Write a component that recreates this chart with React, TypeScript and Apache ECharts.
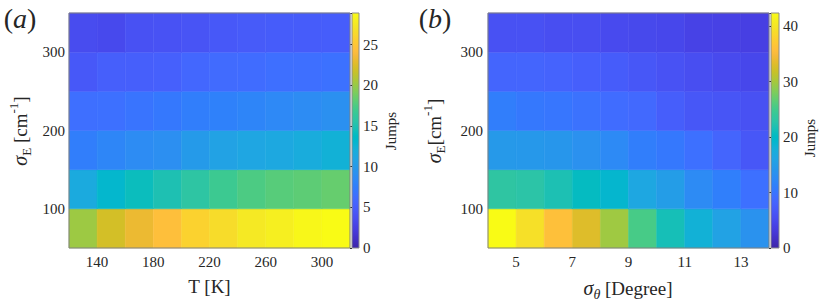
import React, { useEffect, useRef } from "react";
import * as echarts from "echarts";

// parula colormap (64 entries)
const PARULA = [
  "#3e26a8", "#402ab4", "#422ec0", "#4332cb", "#4537d5", "#463cde", "#4741e5", "#4747eb",
  "#484df0", "#4852f4", "#4758f8", "#465efb", "#4563fd", "#4269fe", "#3e6fff", "#3875fe",
  "#327cfc", "#2f81fa", "#2e87f7", "#2d8cf3", "#2b91ef", "#2796eb", "#259be8", "#23a0e5",
  "#20a5e3", "#1ca9df", "#18addb", "#12b1d6", "#08b5d0", "#01b8ca", "#02bac3", "#0bbdbd",
  "#19bfb6", "#24c1ae", "#2cc4a7", "#31c69f", "#37c897", "#3fca8e", "#4acb84", "#57cc7a",
  "#64cd6f", "#72cd64", "#81cc59", "#8fcb4e", "#9dc943", "#abc739", "#b9c431", "#c5c22a",
  "#d1bf27", "#dcbd29", "#e6bb2d", "#f0ba36", "#f8ba3d", "#febe3c", "#fec338", "#fec934",
  "#fccf30", "#fad62d", "#f7dc2a", "#f5e327", "#f5e924", "#f6ef20", "#f7f51b", "#f9fb15",
];

// cell centres
const tempK = [130, 150, 170, 190, 210, 230, 250, 270, 290, 310];
const sigmaTheta = [4.5, 5.5, 6.5, 7.5, 8.5, 9.5, 10.5, 11.5, 12.5, 13.5];
const sigmaE = [75, 125, 175, 225, 275, 325];

// tick labels
const tickTemp = [140, 180, 220, 260, 300];
const tickTheta = [5, 7, 9, 11, 13];
const tickSigmaE = [100, 200, 300];
const tickJumpsA = [0, 5, 10, 15, 20, 25];
const tickJumpsB = [0, 10, 20, 30, 40];

// colour limits
const maxJumpsA = 28.9;
const maxJumpsB = 42.4;

// panel (a): jumps, rows = sigmaE (bottom -> top), cols = T
const jumpsA = [
  [20.2, 22.1, 23.2, 24.4, 25.9, 26.6, 27.5, 28.0, 28.6, 28.9],
  [11.6, 13.1, 14.2, 14.9, 15.8, 16.8, 17.5, 17.9, 18.1, 18.4],
  [7.5, 8.2, 8.7, 9.0, 10.0, 10.7, 11.1, 11.4, 11.8, 12.4],
  [6.4, 6.5, 6.8, 7.1, 7.5, 7.8, 8.1, 8.4, 8.7, 9.1],
  [4.6, 5.1, 5.1, 5.2, 5.8, 6.1, 6.2, 6.4, 6.4, 6.6],
  [3.6, 3.4, 4.0, 4.1, 4.3, 4.6, 4.8, 4.9, 4.9, 5.0],
];

// panel (b): jumps, rows = sigmaE (bottom -> top), cols = sigmaTheta
const jumpsB = [
  [42.4, 39.4, 36.0, 33.1, 29.7, 25.4, 21.4, 18.2, 15.7, 13.6],
  [23.3, 22.9, 21.8, 20.4, 19.1, 16.5, 15.1, 12.7, 11.2, 9.5],
  [14.6, 14.4, 14.2, 13.4, 12.5, 11.0, 10.4, 9.5, 8.3, 6.6],
  [11.0, 10.4, 10.2, 9.8, 9.1, 8.7, 7.4, 6.6, 6.4, 5.9],
  [8.3, 8.3, 8.1, 7.6, 7.2, 6.6, 6.1, 5.5, 5.1, 4.7],
  [5.9, 5.9, 5.5, 5.5, 5.1, 4.9, 4.7, 4.2, 4.0, 3.8],
];

const FONT = "Liberation Serif";
const TXT = "#262626";

function buildCells(xs: number[], ys: number[], vals: number[][]) {
  const out: number[][] = [];
  ys.forEach((y, i) => xs.forEach((x, j) => out.push([x, y, vals[i][j]])));
  return out;
}

function cellRenderer(w: number, h: number) {
  return (_params: any, api: any) => {
    const x = api.value(0);
    const y = api.value(1);
    const p0 = api.coord([x - w / 2, y + h / 2]);
    const p1 = api.coord([x + w / 2, y - h / 2]);
    const c = api.visual("color");
    return {
      type: "rect",
      shape: { x: p0[0], y: p0[1], width: p1[0] - p0[0], height: p1[1] - p0[1] },
      style: { fill: c, stroke: c, lineWidth: 0.5 },
    };
  };
}

function gradient() {
  return new echarts.graphic.LinearGradient(
    0, 1, 0, 0,
    PARULA.map((c, i) => ({ offset: i / (PARULA.length - 1), color: c }))
  );
}

const tickRich = { t: { fontFamily: FONT, fontSize: 15, color: TXT } };
const tickLabel = (ticks: number[], margin: number) => ({
  margin,
  fontFamily: FONT,
  fontSize: 15,
  color: TXT,
  rich: tickRich,
  formatter: (v: number) => (ticks.includes(v) ? `{t|${v}}` : ""),
});

const richTitle = {
  s: { fontFamily: FONT, fontSize: 20, fontStyle: "italic", color: TXT, lineHeight: 26, verticalAlign: "middle" },
  n: { fontFamily: FONT, fontSize: 19, color: TXT, lineHeight: 26, verticalAlign: "middle" },
  j: { fontFamily: FONT, fontSize: 15, color: TXT },
  sub: { fontFamily: FONT, fontSize: 13, color: TXT, verticalAlign: "bottom" },
  subi: { fontFamily: FONT, fontSize: 14, fontStyle: "italic", color: TXT, verticalAlign: "bottom" },
  sup: { fontFamily: FONT, fontSize: 13, color: TXT, verticalAlign: "top" },
  p: { fontFamily: FONT, fontSize: 28, color: "#111", lineHeight: 30 },
  pi: { fontFamily: FONT, fontSize: 28, fontStyle: "italic", color: "#111", lineHeight: 30 },
};

function txt(x: number, y: number, text: string, rotation = 0) {
  return {
    type: "text",
    x,
    y,
    rotation,
    z: 200,
    style: {
      text,
      rich: richTitle,
      align: "center",
      verticalAlign: "middle",
      fontFamily: FONT,
      fontSize: 15,
      fill: TXT,
    },
  };
}

export default function App() {
  const ref = useRef<HTMLDivElement>(null);

  useEffect(() => {
    if (!ref.current) return;
    const chart = echarts.init(ref.current, undefined, { renderer: "svg" });

    const gridA = { left: 69, top: 13, width: 281, height: 235 };
    const gridB = { left: 488, top: 13, width: 281, height: 235 };

    const cbAxis = (gridIndex: number, max: number, ticks: number[]) => ({
      gridIndex,
      type: "value",
      position: "right",
      min: 0,
      max,
      interval: ticks[1] - ticks[0],
      axisLine: { show: false },
      axisTick: { show: true, inside: true, length: 2, lineStyle: { color: "#333", width: 1 } },
      splitLine: { show: false },
      showMaxLabel: false,
      axisLabel: tickLabel(ticks, 4),
    });

    const option: any = {
      animation: false,
      backgroundColor: "#ffffff",
      textStyle: { fontFamily: FONT },
      grid: [
        gridA,
        { left: 352, top: 13, width: 7, height: 235, show: true, backgroundColor: gradient(), borderColor: "#8c8c8c", borderWidth: 1 },
        gridB,
        { left: 771, top: 13, width: 8, height: 235, show: true, backgroundColor: gradient(), borderColor: "#8c8c8c", borderWidth: 1 },
      ],
      xAxis: [
        {
          gridIndex: 0, type: "value", min: 120, max: 320, interval: 20,
          axisLine: { show: false }, axisTick: { show: false }, splitLine: { show: false },
          axisLabel: tickLabel(tickTemp, 6),
        },
        { gridIndex: 1, type: "value", min: 0, max: 1, show: false },
        {
          gridIndex: 2, type: "value", min: 4, max: 14, interval: 1,
          axisLine: { show: false }, axisTick: { show: false }, splitLine: { show: false },
          axisLabel: tickLabel(tickTheta, 6),
        },
        { gridIndex: 3, type: "value", min: 0, max: 1, show: false },
      ],
      yAxis: [
        {
          gridIndex: 0, type: "value", min: 50, max: 350, interval: 50,
          axisLine: { show: false }, axisTick: { show: false }, splitLine: { show: false },
          axisLabel: tickLabel(tickSigmaE, 4),
        },
        cbAxis(1, maxJumpsA, tickJumpsA),
        {
          gridIndex: 2, type: "value", min: 50, max: 350, interval: 50,
          axisLine: { show: false }, axisTick: { show: false }, splitLine: { show: false },
          axisLabel: tickLabel(tickSigmaE, 5),
        },
        cbAxis(3, maxJumpsB, tickJumpsB),
      ],
      visualMap: [
        { type: "continuous", show: false, seriesIndex: 0, dimension: 2, min: 0, max: maxJumpsA, inRange: { color: PARULA } },
        { type: "continuous", show: false, seriesIndex: 1, dimension: 2, min: 0, max: maxJumpsB, inRange: { color: PARULA } },
      ],
      series: [
        {
          type: "custom",
          xAxisIndex: 0,
          yAxisIndex: 0,
          renderItem: cellRenderer(tempK[1] - tempK[0], sigmaE[1] - sigmaE[0]),
          data: buildCells(tempK, sigmaE, jumpsA),
          encode: { x: 0, y: 1 },
          silent: true,
        },
        {
          type: "custom",
          xAxisIndex: 2,
          yAxisIndex: 2,
          renderItem: cellRenderer(sigmaTheta[1] - sigmaTheta[0], sigmaE[1] - sigmaE[0]),
          data: buildCells(sigmaTheta, sigmaE, jumpsB),
          encode: { x: 0, y: 1 },
          silent: true,
        },
      ],
      graphic: [
        {
          type: "rect", z: 150, silent: true,
          shape: { x: gridA.left, y: gridA.top, width: gridA.width, height: gridA.height },
          style: { fill: "none", stroke: "#808080", lineWidth: 1 },
        },
        {
          type: "rect", z: 150, silent: true,
          shape: { x: gridB.left, y: gridB.top, width: gridB.width, height: gridB.height },
          style: { fill: "none", stroke: "#808080", lineWidth: 1 },
        },
        txt(20, 18, "{p|(}{pi|a}{p|)}", 0),
        txt(435, 18, "{p|(}{pi|b}{p|)}", 0),
        txt(20, 131, "{s|σ}{sub|E}{n| [cm}{sup|-1}{n|]}", Math.PI / 2),
        txt(434, 131, "{s|σ}{sub|E}{n|[cm}{sup|-1}{n|]}", Math.PI / 2),
        txt(209.5, 286, "{n|T [K]}", 0),
        txt(628, 288, "{s|σ}{subi|θ}{n| [Degree]}", 0),
        txt(391, 131, "{j|Jumps}", Math.PI / 2),
        txt(810, 138, "{j|Jumps}", Math.PI / 2),
      ],
    };

    chart.setOption(option);
    return () => chart.dispose();
  }, []);

  return (
    <div
      ref={ref}
      style={{ position: "fixed", left: 0, top: 0, width: 822, height: 306, background: "#fff" }}
    />
  );
}
